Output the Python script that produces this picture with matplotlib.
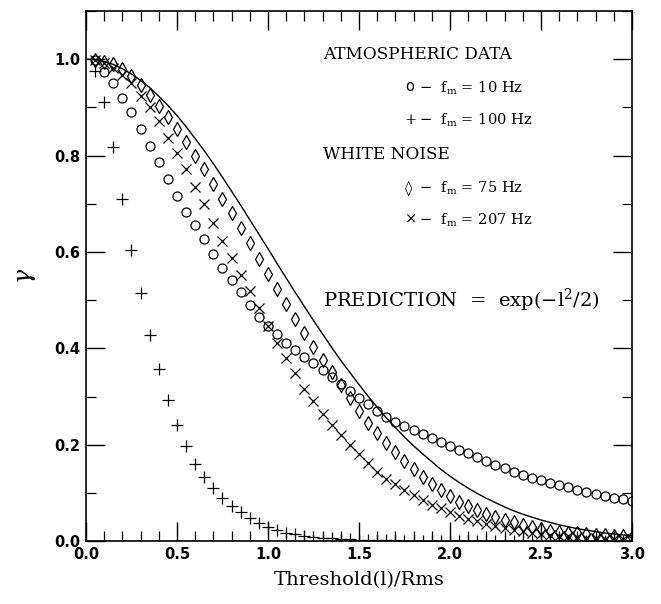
import matplotlib
matplotlib.use("Agg")
import matplotlib.pyplot as plt
from matplotlib.ticker import MultipleLocator

plt.rcParams["mathtext.fontset"] = "dejavuserif"

# threshold values (l / Rms) of the measured points
x_pts = [round(0.05 * i, 2) for i in range(1, 61)]

# ATMOSPHERIC DATA, f_m = 10 Hz (circles)
atm_10 = [0.998, 0.974, 0.951, 0.920, 0.890, 0.854, 0.820, 0.787, 0.752, 0.717,
          0.683, 0.655, 0.626, 0.596, 0.567, 0.541, 0.516, 0.489, 0.466, 0.447,
          0.430, 0.412, 0.397, 0.383, 0.369, 0.355, 0.340, 0.326, 0.312, 0.298,
          0.285, 0.271, 0.258, 0.247, 0.238, 0.230, 0.222, 0.213, 0.206, 0.198,
          0.189, 0.182, 0.174, 0.167, 0.159, 0.152, 0.144, 0.138, 0.132, 0.127,
          0.121, 0.116, 0.112, 0.107, 0.102, 0.098, 0.094, 0.090, 0.087, 0.083]

# ATMOSPHERIC DATA, f_m = 100 Hz (plus)
atm_100 = [0.976, 0.910, 0.818, 0.709, 0.603, 0.514, 0.428, 0.358, 0.293, 0.240,
           0.198, 0.161, 0.134, 0.110, 0.089, 0.073, 0.060, 0.048, 0.038, 0.030,
           0.023, 0.018, 0.014, 0.011, 0.009, 0.007, 0.006, 0.005, 0.004, 0.003,
           0.003, 0.002, 0.002, 0.002, 0.001, 0.001, 0.001, 0.001, 0.001, 0.001,
           0.000, 0.000, 0.000, 0.000, 0.000, 0.000, 0.000, 0.000, 0.000, 0.000,
           0.000, 0.000, 0.000, 0.000, 0.000, 0.000, 0.000, 0.000, 0.000, 0.000]

# WHITE NOISE, f_m = 75 Hz (diamonds)
wn_75 = [0.998, 0.994, 0.990, 0.979, 0.964, 0.946, 0.925, 0.903, 0.879, 0.854,
         0.827, 0.799, 0.771, 0.740, 0.710, 0.680, 0.650, 0.618, 0.586, 0.555,
         0.524, 0.492, 0.461, 0.432, 0.403, 0.376, 0.350, 0.324, 0.297, 0.271,
         0.246, 0.224, 0.204, 0.184, 0.167, 0.149, 0.134, 0.119, 0.106, 0.094,
         0.082, 0.073, 0.064, 0.057, 0.050, 0.044, 0.039, 0.034, 0.030, 0.026,
         0.022, 0.020, 0.018, 0.016, 0.015, 0.013, 0.012, 0.011, 0.010, 0.009]

# WHITE NOISE, f_m = 207 Hz (crosses)
wn_207 = [0.998, 0.992, 0.982, 0.968, 0.950, 0.924, 0.900, 0.872, 0.837, 0.806,
          0.771, 0.735, 0.699, 0.660, 0.623, 0.588, 0.552, 0.518, 0.484, 0.447,
          0.411, 0.380, 0.349, 0.316, 0.291, 0.264, 0.241, 0.220, 0.200, 0.181,
          0.162, 0.144, 0.130, 0.118, 0.106, 0.095, 0.085, 0.076, 0.068, 0.060,
          0.053, 0.047, 0.041, 0.036, 0.031, 0.027, 0.024, 0.021, 0.018, 0.015,
          0.013, 0.011, 0.010, 0.008, 0.007, 0.006, 0.005, 0.005, 0.004, 0.004]

# PREDICTION curve
x_pred = [round(0.05 * i, 2) for i in range(0, 61)]
pred = [1.000, 0.999, 0.995, 0.989, 0.980, 0.969, 0.956, 0.941, 0.923, 0.904,
        0.883, 0.860, 0.835, 0.810, 0.783, 0.755, 0.726, 0.697, 0.667, 0.637,
        0.607, 0.576, 0.546, 0.516, 0.487, 0.458, 0.430, 0.402, 0.375, 0.350,
        0.325, 0.301, 0.278, 0.256, 0.236, 0.216, 0.198, 0.181, 0.165, 0.149,
        0.135, 0.122, 0.110, 0.099, 0.089, 0.080, 0.071, 0.063, 0.056, 0.050,
        0.044, 0.039, 0.034, 0.030, 0.026, 0.023, 0.020, 0.017, 0.015, 0.013,
        0.011]

fig = plt.figure(figsize=(6.61, 6.04), dpi=100)
ax = fig.add_axes([0.130, 0.104, 0.826, 0.878])

ax.plot(x_pred, pred, color="black", lw=1.0)
ax.plot(x_pts, atm_10, ls="none", marker="o", ms=6.5, mfc="none", mec="black", mew=0.9)
ax.plot(x_pts, atm_100, ls="none", marker="+", ms=8, mec="black", mew=0.9)
ax.plot(x_pts, wn_75, ls="none", marker="d", ms=7, mfc="none", mec="black", mew=0.9)
ax.plot(x_pts, wn_207, ls="none", marker="x", ms=6.5, mec="black", mew=0.9)

ax.set_xlim(0, 3.0)
ax.set_ylim(0, 1.1)
ax.xaxis.set_major_locator(MultipleLocator(0.5))
ax.xaxis.set_minor_locator(MultipleLocator(0.1))
ax.yaxis.set_major_locator(MultipleLocator(0.2))
ax.yaxis.set_minor_locator(MultipleLocator(0.1))
ax.xaxis.set_major_formatter(plt.FuncFormatter(lambda v, p: f"{v:.1f}"))
ax.yaxis.set_major_formatter(plt.FuncFormatter(lambda v, p: f"{v:.1f}"))
ax.tick_params(which="both", direction="in", top=True, right=True, color="black")
ax.tick_params(which="major", length=14, width=1.0, labelsize=10.5, pad=4)
ax.tick_params(which="minor", length=7, width=0.9)
for lab in ax.get_xticklabels() + ax.get_yticklabels():
    lab.set_fontweight("bold")
for s in ax.spines.values():
    s.set_linewidth(1.2)

ax.set_xlabel("Threshold(l)/Rms", family="DejaVu Serif", fontsize=14, labelpad=7)
ax.set_ylabel(r"$\gamma$", fontsize=17, rotation=90, labelpad=12)

def ax_xy(px, py):
    return ((px - 86) / 546.0, (541 - py) / 530.0)

def put(px, py, s, size, family="DejaVu Serif"):
    ax.text(*ax_xy(px, py), s, family=family, fontsize=size, color="black",
            va="center", ha="left", transform=ax.transAxes)

put(323, 55, "ATMOSPHERIC DATA", 12.2)
put(323, 155, "WHITE NOISE", 12.2)

sym_x = 405
txt_x = 419
rows = [(88, "o", "\u2212  f$_\\mathrm{m}$ = 10 Hz"),
        (120, "+", "\u2212  f$_\\mathrm{m}$ = 100 Hz"),
        (188, "\u25ca", "\u2212  f$_\\mathrm{m}$ = 75 Hz"),
        (220, "\u00d7", "\u2212  f$_\\mathrm{m}$ = 207 Hz")]
for py, sym, rest in rows:
    put(sym_x, py - 1 if sym == "o" else py, sym, 10.5,
        family="DejaVu Sans" if sym == "o" else "DejaVu Serif")
    put(txt_x, py, rest, 10.5)

put(323, 300, "PREDICTION  =  exp(\u2212l$^2$/2)", 14)

fig.savefig("out.png", dpi=100, facecolor="white")
